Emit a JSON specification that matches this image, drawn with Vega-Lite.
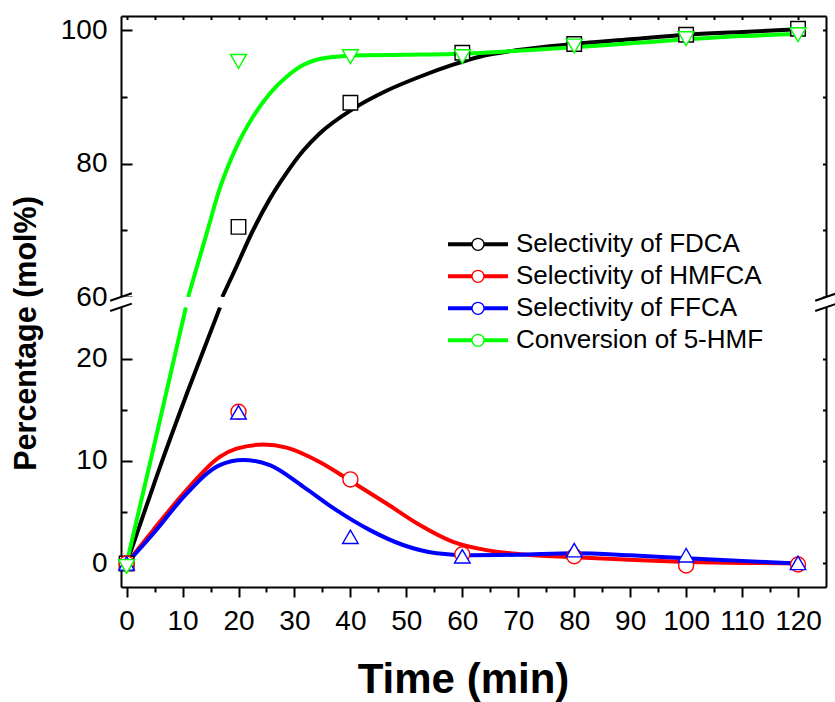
{
  "$schema": "https://vega.github.io/schema/vega-lite/v6.json",
  "width": 705,
  "height": 571,
  "autosize": {"type": "none"},
  "padding": {"left": 121, "top": 16, "right": 9, "bottom": 115},
  "config": {
    "font": "Liberation Sans",
    "view": {"stroke": null},
    "axis": {"grid": false, "domainColor": "#000", "tickColor": "#000", "domainWidth": 2, "tickWidth": 2, "labelColor": "#000", "titleColor": "#000", "labelFont": "Liberation Sans", "titleFont": "Liberation Sans"}
  },
  "datasets": {
    "curves": [
      {"curve": "Selectivity of FDCA", "part": "lower", "t": 0, "v": 0},
      {"curve": "Selectivity of FDCA", "part": "lower", "t": 5.5, "v": 8.7},
      {"curve": "Selectivity of FDCA", "part": "lower", "t": 11.0, "v": 16.9},
      {"curve": "Selectivity of FDCA", "part": "lower", "t": 16.7, "v": 25.0},
      {"curve": "Selectivity of FDCA", "part": "upper", "t": 17.1, "v": 60},
      {"curve": "Selectivity of FDCA", "part": "upper", "t": 19.65, "v": 64.6},
      {"curve": "Selectivity of FDCA", "part": "upper", "t": 22.6, "v": 70.0},
      {"curve": "Selectivity of FDCA", "part": "upper", "t": 25.6, "v": 74.7},
      {"curve": "Selectivity of FDCA", "part": "upper", "t": 28.6, "v": 78.6},
      {"curve": "Selectivity of FDCA", "part": "upper", "t": 31.55, "v": 81.9},
      {"curve": "Selectivity of FDCA", "part": "upper", "t": 34.5, "v": 84.5},
      {"curve": "Selectivity of FDCA", "part": "upper", "t": 40.5, "v": 88.2},
      {"curve": "Selectivity of FDCA", "part": "upper", "t": 46.45, "v": 90.9},
      {"curve": "Selectivity of FDCA", "part": "upper", "t": 52.4, "v": 93.0},
      {"curve": "Selectivity of FDCA", "part": "upper", "t": 58.35, "v": 94.8},
      {"curve": "Selectivity of FDCA", "part": "upper", "t": 63.1, "v": 96.0},
      {"curve": "Selectivity of FDCA", "part": "upper", "t": 70, "v": 97.0},
      {"curve": "Selectivity of FDCA", "part": "upper", "t": 80, "v": 97.9},
      {"curve": "Selectivity of FDCA", "part": "upper", "t": 90, "v": 98.6},
      {"curve": "Selectivity of FDCA", "part": "upper", "t": 100, "v": 99.3},
      {"curve": "Selectivity of FDCA", "part": "upper", "t": 110, "v": 99.7},
      {"curve": "Selectivity of FDCA", "part": "upper", "t": 120, "v": 100.1},
      {"curve": "Selectivity of HMFCA", "part": "lower", "t": 0, "v": 0},
      {"curve": "Selectivity of HMFCA", "part": "lower", "t": 4.75, "v": 3.25},
      {"curve": "Selectivity of HMFCA", "part": "lower", "t": 10.7, "v": 7.15},
      {"curve": "Selectivity of HMFCA", "part": "lower", "t": 16.65, "v": 10.4},
      {"curve": "Selectivity of HMFCA", "part": "lower", "t": 19.65, "v": 11.2},
      {"curve": "Selectivity of HMFCA", "part": "lower", "t": 24.4, "v": 11.6},
      {"curve": "Selectivity of HMFCA", "part": "lower", "t": 28.6, "v": 11.3},
      {"curve": "Selectivity of HMFCA", "part": "lower", "t": 34.5, "v": 9.9},
      {"curve": "Selectivity of HMFCA", "part": "lower", "t": 39.9, "v": 8.1},
      {"curve": "Selectivity of HMFCA", "part": "lower", "t": 46.45, "v": 5.85},
      {"curve": "Selectivity of HMFCA", "part": "lower", "t": 52.4, "v": 3.75},
      {"curve": "Selectivity of HMFCA", "part": "lower", "t": 58.35, "v": 2.1},
      {"curve": "Selectivity of HMFCA", "part": "lower", "t": 64.3, "v": 1.3},
      {"curve": "Selectivity of HMFCA", "part": "lower", "t": 70.3, "v": 0.9},
      {"curve": "Selectivity of HMFCA", "part": "lower", "t": 80, "v": 0.6},
      {"curve": "Selectivity of HMFCA", "part": "lower", "t": 90, "v": 0.35},
      {"curve": "Selectivity of HMFCA", "part": "lower", "t": 100, "v": 0.15},
      {"curve": "Selectivity of HMFCA", "part": "lower", "t": 110, "v": 0.05},
      {"curve": "Selectivity of HMFCA", "part": "lower", "t": 120, "v": 0.0},
      {"curve": "Selectivity of FFCA", "part": "lower", "t": 0, "v": 0},
      {"curve": "Selectivity of FFCA", "part": "lower", "t": 4.75, "v": 2.9},
      {"curve": "Selectivity of FFCA", "part": "lower", "t": 10.7, "v": 6.8},
      {"curve": "Selectivity of FFCA", "part": "lower", "t": 16.65, "v": 9.6},
      {"curve": "Selectivity of FFCA", "part": "lower", "t": 20.8, "v": 10.1},
      {"curve": "Selectivity of FFCA", "part": "lower", "t": 25.6, "v": 9.6},
      {"curve": "Selectivity of FFCA", "part": "lower", "t": 31.55, "v": 7.5},
      {"curve": "Selectivity of FFCA", "part": "lower", "t": 37.5, "v": 5.2},
      {"curve": "Selectivity of FFCA", "part": "lower", "t": 43.5, "v": 3.25},
      {"curve": "Selectivity of FFCA", "part": "lower", "t": 49.4, "v": 1.8},
      {"curve": "Selectivity of FFCA", "part": "lower", "t": 55.4, "v": 1.0},
      {"curve": "Selectivity of FFCA", "part": "lower", "t": 61.3, "v": 0.8},
      {"curve": "Selectivity of FFCA", "part": "lower", "t": 70, "v": 0.85},
      {"curve": "Selectivity of FFCA", "part": "lower", "t": 80, "v": 1.0},
      {"curve": "Selectivity of FFCA", "part": "lower", "t": 90, "v": 0.8},
      {"curve": "Selectivity of FFCA", "part": "lower", "t": 100, "v": 0.5},
      {"curve": "Selectivity of FFCA", "part": "lower", "t": 110, "v": 0.25},
      {"curve": "Selectivity of FFCA", "part": "lower", "t": 120, "v": 0.0},
      {"curve": "Conversion of 5-HMF", "part": "lower", "t": 0, "v": 0},
      {"curve": "Conversion of 5-HMF", "part": "lower", "t": 5, "v": 11.7},
      {"curve": "Conversion of 5-HMF", "part": "lower", "t": 10.6, "v": 25.0},
      {"curve": "Conversion of 5-HMF", "part": "upper", "t": 11.0, "v": 60},
      {"curve": "Conversion of 5-HMF", "part": "upper", "t": 14.3, "v": 69.5},
      {"curve": "Conversion of 5-HMF", "part": "upper", "t": 16.67, "v": 76.3},
      {"curve": "Conversion of 5-HMF", "part": "upper", "t": 19.65, "v": 82.5},
      {"curve": "Conversion of 5-HMF", "part": "upper", "t": 22.6, "v": 87.0},
      {"curve": "Conversion of 5-HMF", "part": "upper", "t": 25.6, "v": 90.5},
      {"curve": "Conversion of 5-HMF", "part": "upper", "t": 28.6, "v": 93.0},
      {"curve": "Conversion of 5-HMF", "part": "upper", "t": 31.55, "v": 94.75},
      {"curve": "Conversion of 5-HMF", "part": "upper", "t": 34.5, "v": 95.65},
      {"curve": "Conversion of 5-HMF", "part": "upper", "t": 37.5, "v": 96.0},
      {"curve": "Conversion of 5-HMF", "part": "upper", "t": 40.5, "v": 96.2},
      {"curve": "Conversion of 5-HMF", "part": "upper", "t": 50, "v": 96.3},
      {"curve": "Conversion of 5-HMF", "part": "upper", "t": 58.35, "v": 96.4},
      {"curve": "Conversion of 5-HMF", "part": "upper", "t": 70, "v": 96.9},
      {"curve": "Conversion of 5-HMF", "part": "upper", "t": 80, "v": 97.4},
      {"curve": "Conversion of 5-HMF", "part": "upper", "t": 90, "v": 98.0},
      {"curve": "Conversion of 5-HMF", "part": "upper", "t": 100, "v": 98.6},
      {"curve": "Conversion of 5-HMF", "part": "upper", "t": 110, "v": 99.1},
      {"curve": "Conversion of 5-HMF", "part": "upper", "t": 120, "v": 99.4}
    ],
    "points": [
      {"series": "Selectivity of FDCA", "t": 0, "v": 0},
      {"series": "Selectivity of FDCA", "t": 20, "v": 70.5},
      {"series": "Selectivity of FDCA", "t": 40, "v": 89.1},
      {"series": "Selectivity of FDCA", "t": 60, "v": 96.6},
      {"series": "Selectivity of FDCA", "t": 80, "v": 97.9},
      {"series": "Selectivity of FDCA", "t": 100, "v": 99.3},
      {"series": "Selectivity of FDCA", "t": 120, "v": 100.2},
      {"series": "Selectivity of HMFCA", "t": 0, "v": 0},
      {"series": "Selectivity of HMFCA", "t": 20, "v": 14.8},
      {"series": "Selectivity of HMFCA", "t": 40, "v": 8.2},
      {"series": "Selectivity of HMFCA", "t": 60, "v": 0.9},
      {"series": "Selectivity of HMFCA", "t": 80, "v": 0.7},
      {"series": "Selectivity of HMFCA", "t": 100, "v": -0.2},
      {"series": "Selectivity of HMFCA", "t": 120, "v": -0.1},
      {"series": "Selectivity of FFCA", "t": 0, "v": 0},
      {"series": "Selectivity of FFCA", "t": 20, "v": 14.75},
      {"series": "Selectivity of FFCA", "t": 40, "v": 2.6},
      {"series": "Selectivity of FFCA", "t": 60, "v": 0.7},
      {"series": "Selectivity of FFCA", "t": 80, "v": 1.3},
      {"series": "Selectivity of FFCA", "t": 100, "v": 0.8},
      {"series": "Selectivity of FFCA", "t": 120, "v": 0.05},
      {"series": "Conversion of 5-HMF", "t": 0, "v": -0.3},
      {"series": "Conversion of 5-HMF", "t": 20, "v": 95.3},
      {"series": "Conversion of 5-HMF", "t": 40, "v": 96.0},
      {"series": "Conversion of 5-HMF", "t": 60, "v": 96.0},
      {"series": "Conversion of 5-HMF", "t": 80, "v": 97.6},
      {"series": "Conversion of 5-HMF", "t": 100, "v": 98.7},
      {"series": "Conversion of 5-HMF", "t": 120, "v": 99.3}
    ],
    "breaks": [
      {"t": -1, "v": 60},
      {"t": -1, "v": 25},
      {"t": 125, "v": 60},
      {"t": 125, "v": 25}
    ]
  },
  "resolve": {"axis": {"x": "independent", "y": "independent"}},
  "layer": [
    {
      "data": {"name": "curves"},
      "mark": {"type": "line", "strokeWidth": 4, "interpolate": "monotone", "clip": true},
      "encoding": {
        "x": {"field": "t", "type": "quantitative",
          "scale": {"domain": [-1, 125], "nice": false, "zero": false},
          "axis": {"orient": "bottom", "values": [0, 10, 20, 30, 40, 50, 60, 70, 80, 90, 100, 110, 120], "tickSize": 10, "labelFontSize": 28, "labelPadding": 10, "labelFlush": false, "title": "Time (min)", "titleFontSize": 42, "titleFontWeight": "bold", "titleX": 342, "titleY": 105, "titleBaseline": "alphabetic", "titleAlign": "center"}},
        "y": {"field": "v", "type": "quantitative",
          "scale": {"type": "linear", "domain": [-2.3, 25, 60, 102.1], "range": [571, 291.3, 281, 0], "nice": false, "zero": false},
          "axis": {"orient": "left", "values": [0, 10, 20, 60, 80, 100], "tickSize": -11, "labelFontSize": 28, "labelPadding": 25, "labelFlush": false, "title": "Percentage (mol%)", "titleFontSize": 30.5, "titleFontWeight": "bold", "titleAngle": -90, "titleX": -95, "titleY": 317, "titleAlign": "center", "titleBaseline": "middle"}},
        "detail": {"field": "part", "type": "nominal"},
        "color": {"field": "curve", "type": "nominal",
          "scale": {"domain": ["Selectivity of FDCA", "Selectivity of HMFCA", "Selectivity of FFCA", "Conversion of 5-HMF"], "range": ["#000000", "#ff0000", "#0000ff", "#00ff00"]},
          "legend": {"orient": "none", "legendX": 344, "legendY": 215.3, "direction": "vertical", "title": null, "padding": 0, "symbolType": "M-5,0H5", "symbolSize": 144, "symbolStrokeWidth": 4, "labelFontSize": 26, "labelFont": "Liberation Sans", "labelColor": "#000", "labelLimit": 500, "labelOffset": 25, "rowPadding": 6, "zindex": 0}}
      }
    },
    {
      "data": {"values": [{}]},
      "mark": {"type": "rect", "fill": "white", "xOffset": -6, "x2Offset": 6},
      "encoding": {
        "x": {"datum": -1, "type": "quantitative",
          "scale": {"domain": [-1, 125], "nice": false, "zero": false},
          "axis": {"orient": "top", "values": [0, 5, 10, 15, 20, 25, 30, 35, 40, 45, 50, 55, 60, 65, 70, 75, 80, 85, 90, 95, 100, 105, 110, 115, 120], "tickSize": -3.5, "labels": false, "title": null}},
        "x2": {"datum": 125},
        "y": {"datum": 25, "type": "quantitative",
          "scale": {"type": "linear", "domain": [-2.3, 25, 60, 102.1], "range": [571, 291.3, 281, 0], "nice": false, "zero": false},
          "axis": {"orient": "right", "values": [0, 5, 10, 15, 20, 60, 70, 80, 90, 100], "tickSize": -3.5, "labels": false, "title": null}},
        "y2": {"datum": 60}
      }
    },
    {
      "data": {"name": "points"},
      "mark": {"type": "point", "filled": true, "fill": "white", "strokeWidth": 1.4, "opacity": 1},
      "encoding": {
        "x": {"field": "t", "type": "quantitative",
          "scale": {"domain": [-1, 125], "nice": false, "zero": false},
          "axis": {"orient": "bottom", "values": [5, 15, 25, 35, 45, 55, 65, 75, 85, 95, 105, 115], "tickSize": 5, "labels": false, "domain": false, "title": null}},
        "y": {"field": "v", "type": "quantitative",
          "scale": {"type": "linear", "domain": [-2.3, 25, 60, 102.1], "range": [571, 291.3, 281, 0], "nice": false, "zero": false},
          "axis": {"orient": "left", "values": [5, 15, 70, 90], "tickSize": -6, "labels": false, "domain": false, "title": null}},
        "stroke": {"field": "series", "type": "nominal",
          "sort": ["Selectivity of FDCA", "Selectivity of HMFCA", "Selectivity of FFCA", "Conversion of 5-HMF"],
          "scale": {"range": ["#000000", "#ff0000", "#0000ff", "#00ff00"]},
          "legend": {"orient": "none", "legendX": 344, "legendY": 215.3, "direction": "vertical", "title": null, "padding": 0, "symbolSize": 144, "symbolFillColor": "white", "symbolStrokeWidth": 1.3, "symbolOpacity": 1, "labelFontSize": 26, "labelFont": "Liberation Sans", "labelLimit": 500, "labelOpacity": 0, "labelOffset": 25, "rowPadding": 6, "zindex": 1,
            "encode": {"symbols": {"shape": {"value": {"expr": "datum.value === 'Selectivity of FDCA' ? 'square' : datum.value === 'Selectivity of HMFCA' ? 'circle' : datum.value === 'Selectivity of FFCA' ? 'triangle-up' : 'triangle-down'"}}}}}},
        "shape": {"field": "series", "type": "nominal",
          "sort": ["Selectivity of FDCA", "Selectivity of HMFCA", "Selectivity of FFCA", "Conversion of 5-HMF"],
          "scale": {"range": ["square", "circle", "triangle-up", "triangle-down"]}, "legend": null},
        "size": {"field": "series", "type": "nominal",
          "sort": ["Selectivity of FDCA", "Selectivity of HMFCA", "Selectivity of FFCA", "Conversion of 5-HMF"],
          "scale": {"range": [210, 256, 400, 400]}, "legend": null}
      }
    },
    {
      "data": {"name": "breaks"},
      "mark": {"type": "point", "shape": "stroke", "angle": -19, "size": 524, "stroke": "#000", "strokeWidth": 2, "filled": false, "opacity": 1, "clip": false},
      "encoding": {
        "x": {"field": "t", "type": "quantitative", "scale": {"domain": [-1, 125], "nice": false, "zero": false}, "axis": null},
        "y": {"field": "v", "type": "quantitative", "scale": {"type": "linear", "domain": [-2.3, 25, 60, 102.1], "range": [571, 291.3, 281, 0], "nice": false, "zero": false}, "axis": null}
      }
    }
  ]
}
